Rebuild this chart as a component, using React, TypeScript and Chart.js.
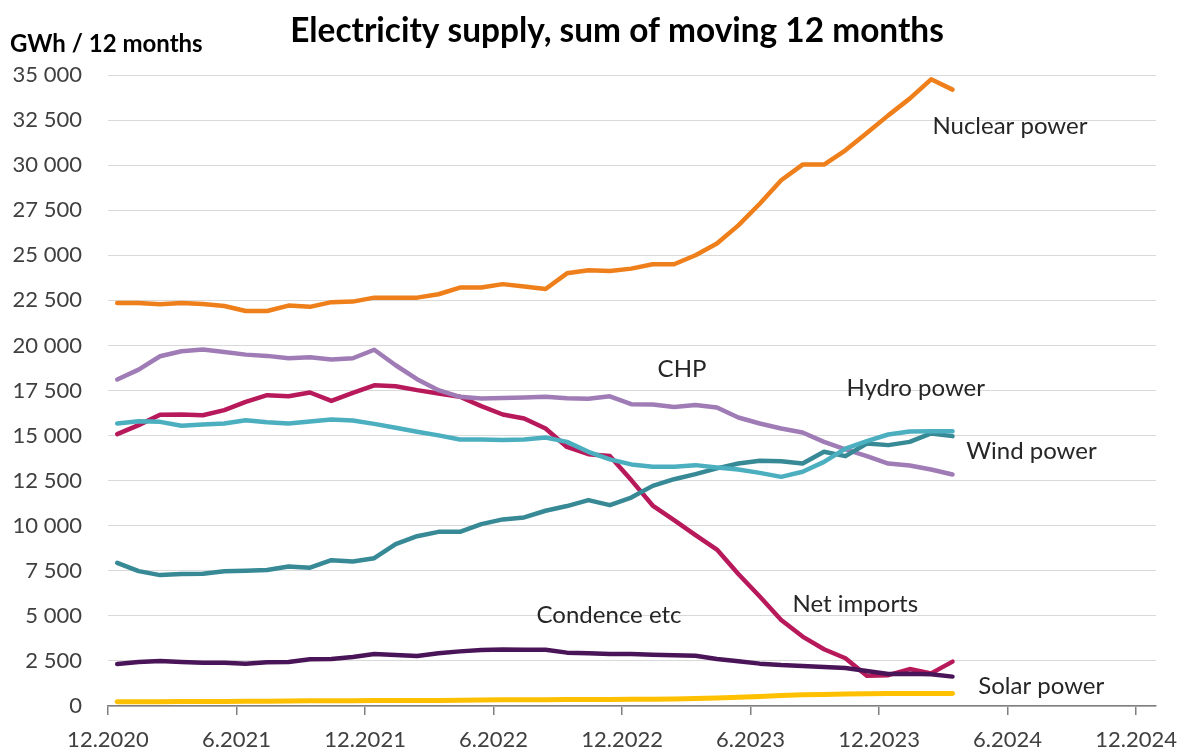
import React, { useEffect, useRef } from 'react';
import { Chart, registerables } from 'chart.js';

Chart.register(...registerables);

// Monthly observations (moving 12-month sums), 12.2020 .. 3.2024
const MONTHS = [
  '12.2020', '1.2021', '2.2021', '3.2021', '4.2021', '5.2021', '6.2021', '7.2021', '8.2021', '9.2021',
  '10.2021', '11.2021', '12.2021', '1.2022', '2.2022', '3.2022', '4.2022', '5.2022', '6.2022', '7.2022',
  '8.2022', '9.2022', '10.2022', '11.2022', '12.2022', '1.2023', '2.2023', '3.2023', '4.2023', '5.2023',
  '6.2023', '7.2023', '8.2023', '9.2023', '10.2023', '11.2023', '12.2023', '1.2024', '2.2024', '3.2024',
];

const TICK_LABELS = ['12.2020', '6.2021', '12.2021', '6.2022', '12.2022', '6.2023', '12.2023', '6.2024', '12.2024'];

const NUCLEAR = [
  22350, 22350, 22280, 22350, 22300, 22190, 21910, 21910, 22210, 22140,
  22400, 22430, 22650, 22650, 22650, 22840, 23210, 23210, 23400, 23270,
  23130, 24000, 24170, 24130, 24260, 24500, 24500, 25000, 25650, 26660,
  27860, 29160, 30030, 30030, 30820, 31780, 32760, 33690, 34760, 34190,
];
const CHP = [
  18110, 18660, 19400, 19680, 19770, 19640, 19490, 19420, 19290, 19350,
  19220, 19290, 19760, 18900, 18130, 17520, 17150, 17060, 17090, 17110,
  17150, 17070, 17040, 17180, 16740, 16720, 16590, 16690, 16560, 16000,
  15670, 15390, 15170, 14650, 14230, 13860, 13450, 13340, 13120, 12840,
];
const NET_IMPORTS = [
  15080, 15580, 16150, 16170, 16130, 16410, 16870, 17240, 17180, 17390,
  16920, 17370, 17790, 17740, 17520, 17330, 17150, 16630, 16170, 15950,
  15390, 14370, 13970, 13870, 12530, 11120, 10310, 9480, 8680, 7320,
  6070, 4770, 3850, 3150, 2650, 1680, 1710, 2050, 1810, 2460,
];
const HYDRO = [
  15670, 15800, 15760, 15540, 15620, 15670, 15850, 15740, 15670, 15780,
  15890, 15840, 15650, 15430, 15210, 15010, 14780, 14780, 14750, 14780,
  14890, 14650, 14100, 13680, 13400, 13270, 13270, 13360, 13230, 13120,
  12930, 12710, 12990, 13540, 14280, 14690, 15060, 15230, 15240, 15240,
];
const WIND = [
  7940, 7480, 7260, 7320, 7330, 7470, 7500, 7540, 7740, 7670,
  8090, 8020, 8200, 8980, 9420, 9660, 9660, 10090, 10350, 10460,
  10830, 11090, 11420, 11140, 11560, 12210, 12580, 12860, 13180, 13450,
  13600, 13580, 13450, 14100, 13860, 14560, 14470, 14650, 15120, 14970,
];
const CONDENCE = [
  2330, 2440, 2490, 2440, 2400, 2400, 2350, 2420, 2440, 2590,
  2610, 2720, 2880, 2830, 2770, 2920, 3030, 3100, 3140, 3120,
  3120, 2960, 2920, 2880, 2880, 2840, 2810, 2790, 2610, 2480,
  2350, 2270, 2220, 2160, 2110, 1940, 1770, 1790, 1760, 1630,
];
const SOLAR = [
  230, 235, 240, 245, 250, 255, 260, 270, 280, 285,
  290, 295, 300, 300, 305, 310, 320, 330, 340, 345,
  350, 355, 360, 365, 370, 380, 390, 410, 440, 480,
  530, 580, 620, 640, 660, 680, 690, 690, 690, 700,
];

const SERIES_NAMES = ['Nuclear power', 'CHP', 'Hydro power', 'Wind power', 'Net imports', 'Condence etc', 'Solar power'];

const TITLE = 'Electricity supply, sum of moving 12 months';
const UNIT = 'GWh / 12 months';

// month offset of the tick marks relative to the observations
const TICK_OFFSET = -0.43;

function fmt(v: number): string {
  return String(Math.round(v)).replace(/\B(?=(\d{3})+(?!\d))/g, ' ');
}

function toPoints(arr: number[]) {
  return arr.map((v, i) => ({ x: i, y: v }));
}

// label anchors in data coordinates (month index, GWh)
const LABEL_ANCHORS = [
  { name: SERIES_NAMES[0], x: 38.06, y: 32150 },
  { name: SERIES_NAMES[1], x: 25.23, y: 18680 },
  { name: SERIES_NAMES[2], x: 34.05, y: 17630 },
  { name: SERIES_NAMES[3], x: 39.64, y: 14140 },
  { name: SERIES_NAMES[4], x: 31.53, y: 5650 },
  { name: SERIES_NAMES[5], x: 19.58, y: 5040 },
  { name: SERIES_NAMES[6], x: 40.2, y: 1110 },
];

const textPlugin = {
  id: 'textPlugin',
  afterDraw(chart: any) {
    const ctx = chart.ctx;
    const xs = chart.scales.x;
    const ys = chart.scales.y;
    ctx.save();
    ctx.fillStyle = '#000000';
    ctx.font = 'bold 33.4px Lato';
    ctx.textAlign = 'center';
    ctx.textBaseline = 'middle';
    ctx.fillText(TITLE, 617, 31);
    ctx.font = 'bold 24px Lato';
    ctx.textAlign = 'left';
    ctx.fillText(UNIT, 10, 44);
    ctx.fillStyle = '#262626';
    ctx.font = '24px Lato';
    ctx.textBaseline = 'middle';
    for (const a of LABEL_ANCHORS) {
      ctx.fillText(a.name, xs.getPixelForValue(a.x), ys.getPixelForValue(a.y));
    }
    ctx.restore();
  },
};

export default function App() {
  const ref = useRef<HTMLCanvasElement | null>(null);

  useEffect(() => {
    document.body.style.margin = '0';
    if (!ref.current) return;
    Chart.defaults.font.family = 'Lato';
    const chart = new Chart(ref.current, {
      type: 'line',
      data: {
        labels: MONTHS,
        datasets: [
          { label: SERIES_NAMES[5], data: toPoints(CONDENCE), borderColor: '#4a1558', borderWidth: 4.5 },
          { label: SERIES_NAMES[6], data: toPoints(SOLAR), borderColor: '#ffc000', borderWidth: 5 },
          { label: SERIES_NAMES[2], data: toPoints(HYDRO), borderColor: '#4bafc0', borderWidth: 4.5 },
          { label: SERIES_NAMES[3], data: toPoints(WIND), borderColor: '#378a95', borderWidth: 4.5 },
          { label: SERIES_NAMES[1], data: toPoints(CHP), borderColor: '#a07cb6', borderWidth: 4.5 },
          { label: SERIES_NAMES[4], data: toPoints(NET_IMPORTS), borderColor: '#b8195b', borderWidth: 4.5 },
          { label: SERIES_NAMES[0], data: toPoints(NUCLEAR), borderColor: '#ee7f1a', borderWidth: 4.5 },
        ].map((d) => ({ ...d, pointRadius: 0, fill: false, tension: 0, borderJoinStyle: 'round' as const, borderCapStyle: 'round' as const })),
      },
      options: {
        animation: false,
        responsive: false,
        maintainAspectRatio: false,
        layout: { padding: { top: 75, right: 36, left: 0, bottom: 0 } },
        plugins: {
          legend: { display: false },
          title: { display: false },
          tooltip: { enabled: false },
        },
        scales: {
          x: {
            type: 'linear',
            min: TICK_OFFSET,
            max: 48.5,
            afterBuildTicks: (s: any) => {
              s.ticks = TICK_LABELS.map((_, k) => ({ value: TICK_OFFSET + k * 6 }));
            },
            afterFit: (s: any) => {
              s.height = 48;
            },
            ticks: {
              autoSkip: false,
              maxRotation: 0,
              padding: 12,
              color: '#404040',
              font: { size: 22 },
              callback: (_v: any, idx: number) => TICK_LABELS[idx],
            },
            grid: {
              display: true,
              drawOnChartArea: false,
              drawTicks: true,
              tickLength: 9,
              tickColor: '#7f7f7f',
              lineWidth: 1.5,
            },
            border: { display: true, color: '#7f7f7f', width: 1.5 },
          },
          y: {
            type: 'linear',
            min: 0,
            max: 35000,
            afterFit: (s: any) => {
              s.width = 108;
            },
            ticks: {
              stepSize: 2500,
              padding: 26,
              color: '#404040',
              font: { size: 22 },
              callback: (v: any) => fmt(Number(v)),
            },
            grid: { color: '#d9d9d9', lineWidth: 1, drawTicks: false },
            border: { display: false },
          },
        },
      },
      plugins: [textPlugin],
    });
    return () => chart.destroy();
  }, []);

  return (
    <div style={{ width: 1192, height: 754 }}>
      <canvas ref={ref} width={1192} height={754} style={{ display: 'block' }} />
    </div>
  );
}
